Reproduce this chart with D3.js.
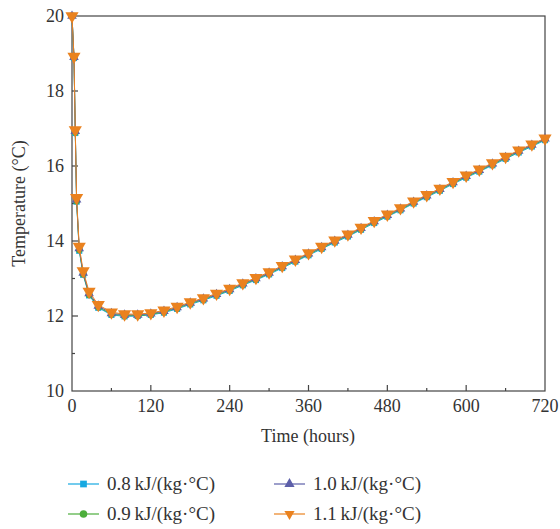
<html>
<head>
<script src="https://cdnjs.cloudflare.com/ajax/libs/d3/7.8.5/d3.min.js"></script>
<style>
  body { margin: 0; background: #fff; }
  text { font-family: "Liberation Serif", "DejaVu Serif", serif; fill: #333; }
</style>
</head>
<body>
<script>
// time points (hours)
var hours = [0, 3, 5, 7, 11, 17, 26, 40, 60, 80, 100, 120, 140, 160, 180, 200, 220, 240, 260, 280,
  300, 320, 340, 360, 380, 400, 420, 440, 460, 480, 500, 520, 540, 560, 580, 600, 620, 640, 660, 680, 700, 720];

// temperature (°C) for each specific heat capacity
var temp08 = [20, 18.88, 16.88, 15.05, 13.74, 13.10, 12.55, 12.22, 12.03, 11.99, 12.00, 12.03, 12.09, 12.19, 12.31, 12.42,
  12.54, 12.67, 12.82, 12.96, 13.11, 13.28, 13.45, 13.62, 13.79, 13.96, 14.12, 14.30, 14.48, 14.65, 14.82, 15.00,
  15.17, 15.34, 15.52, 15.69, 15.85, 16.02, 16.19, 16.36, 16.52, 16.69];
var temp09 = [20, 18.90, 16.90, 15.07, 13.77, 13.12, 12.57, 12.24, 12.05, 12.01, 12.01, 12.04, 12.11, 12.21, 12.33, 12.44,
  12.56, 12.69, 12.84, 12.98, 13.13, 13.30, 13.47, 13.64, 13.81, 13.98, 14.14, 14.32, 14.50, 14.67, 14.84, 15.02,
  15.19, 15.36, 15.54, 15.71, 15.87, 16.04, 16.21, 16.38, 16.54, 16.71];
var temp10 = [20, 18.90, 16.93, 15.10, 13.80, 13.15, 12.60, 12.27, 12.07, 12.03, 12.03, 12.06, 12.13, 12.23, 12.35, 12.46,
  12.58, 12.71, 12.86, 13.00, 13.15, 13.32, 13.49, 13.66, 13.83, 14.00, 14.16, 14.34, 14.52, 14.69, 14.86, 15.04,
  15.21, 15.38, 15.56, 15.73, 15.89, 16.06, 16.23, 16.40, 16.56, 16.73];
var temp11 = [20, 18.92, 16.96, 15.15, 13.85, 13.20, 12.65, 12.30, 12.10, 12.05, 12.05, 12.08, 12.15, 12.25, 12.37, 12.48,
  12.60, 12.73, 12.88, 13.02, 13.17, 13.34, 13.51, 13.68, 13.85, 14.02, 14.18, 14.36, 14.54, 14.71, 14.88, 15.06,
  15.23, 15.40, 15.58, 15.75, 15.91, 16.08, 16.25, 16.42, 16.58, 16.74];

var seriesNames = ["0.8\u2009kJ/(kg\u00b7\u00b0C)", "0.9\u2009kJ/(kg\u00b7\u00b0C)", "1.0\u2009kJ/(kg\u00b7\u00b0C)", "1.1\u2009kJ/(kg\u00b7\u00b0C)"];
var seriesColors = ["#17a9e1", "#4cae3b", "#5d5fa9", "#ea821f"];
var xTicks = [0, 120, 240, 360, 480, 600, 720];
var yTicks = [10, 12, 14, 16, 18, 20];

var W = 560, H = 529;
var mLeft = 72, mRight = 545, mTop = 16, mBottom = 391;

var svg = d3.select("body").append("svg").attr("width", W).attr("height", H);

var x = d3.scaleLinear().domain([0, 720]).range([mLeft, mRight]);
var y = d3.scaleLinear().domain([10, 20]).range([mBottom, mTop]);

// frame
svg.append("rect")
  .attr("x", mLeft).attr("y", mTop)
  .attr("width", mRight - mLeft).attr("height", mBottom - mTop)
  .attr("fill", "none").attr("stroke", "#444").attr("stroke-width", 1.2);

// x axis ticks (inward)
var xMinor = d3.range(60, 720, 120);
svg.append("g").selectAll("line").data(xTicks.slice(1, -1)).enter().append("line")
  .attr("x1", d => x(d)).attr("x2", d => x(d))
  .attr("y1", mBottom).attr("y2", mBottom - 6)
  .attr("stroke", "#444").attr("stroke-width", 1.2);
svg.append("g").selectAll("line").data(xMinor).enter().append("line")
  .attr("x1", d => x(d)).attr("x2", d => x(d))
  .attr("y1", mBottom).attr("y2", mBottom - 3)
  .attr("stroke", "#444").attr("stroke-width", 1.2);
svg.append("g").selectAll("text").data(xTicks).enter().append("text")
  .attr("x", d => x(d)).attr("y", mBottom + 21)
  .attr("text-anchor", "middle").attr("font-size", 18)
  .text(d => d);

// y axis ticks (inward)
var yMinor = [11, 13, 15, 17, 19];
svg.append("g").selectAll("line").data(yTicks.slice(1, -1)).enter().append("line")
  .attr("x1", mLeft).attr("x2", mLeft + 6)
  .attr("y1", d => y(d)).attr("y2", d => y(d))
  .attr("stroke", "#444").attr("stroke-width", 1.2);
svg.append("g").selectAll("line").data(yMinor).enter().append("line")
  .attr("x1", mLeft).attr("x2", mLeft + 3)
  .attr("y1", d => y(d)).attr("y2", d => y(d))
  .attr("stroke", "#444").attr("stroke-width", 1.2);
svg.append("g").selectAll("text").data(yTicks).enter().append("text")
  .attr("x", mLeft - 8).attr("y", d => y(d) + 6)
  .attr("text-anchor", "end").attr("font-size", 18)
  .text(d => d);

// axis titles
svg.append("text").attr("x", 308).attr("y", mBottom + 51)
  .attr("text-anchor", "middle").attr("font-size", 18).text("Time (hours)");
svg.append("text")
  .attr("transform", "translate(25," + ((mTop + mBottom) / 2) + ") rotate(-90)")
  .attr("text-anchor", "middle").attr("font-size", 18).text("Temperature (\u00b0C)");

// series
var allTemps = [temp08, temp09, temp10, temp11];
var symbols = [d3.symbolSquare, d3.symbolCircle, d3.symbolTriangle, d3.symbolTriangle];
var symSizes = [38, 38, 40, 75];
var legendSizes = [45, 45, 45, 45];
var symRot = [0, 0, 0, 180];

var line = d3.line().x(d => x(d[0])).y(d => y(d[1]));

allTemps.forEach(function (vals, i) {
  var pts = hours.map((h, k) => [h, vals[k]]);
  svg.append("path").datum(pts)
    .attr("d", line)
    .attr("fill", "none").attr("stroke", seriesColors[i]).attr("stroke-width", 1);
  svg.append("g").selectAll("path").data(pts).enter().append("path")
    .attr("d", d3.symbol().type(symbols[i]).size(symSizes[i]))
    .attr("transform", d => "translate(" + x(d[0]) + "," + y(d[1]) + ") rotate(" + symRot[i] + ")")
    .attr("fill", seriesColors[i]);
});

// legend
var legendPos = [[68, 484], [68, 514], [274, 484], [274, 514]];
seriesNames.forEach(function (name, i) {
  var g = svg.append("g").attr("transform", "translate(" + legendPos[i][0] + "," + legendPos[i][1] + ")");
  g.append("line").attr("x1", 0).attr("x2", 31).attr("y1", 0).attr("y2", 0)
    .attr("stroke", seriesColors[i]).attr("stroke-width", 1.2);
  g.append("path")
    .attr("d", d3.symbol().type(symbols[i]).size(legendSizes[i]))
    .attr("transform", "translate(15.5,0) rotate(" + symRot[i] + ")")
    .attr("fill", seriesColors[i]);
  g.append("text").attr("x", 39).attr("y", 6).attr("font-size", 19).text(name);
});
</script>
</body>
</html>
